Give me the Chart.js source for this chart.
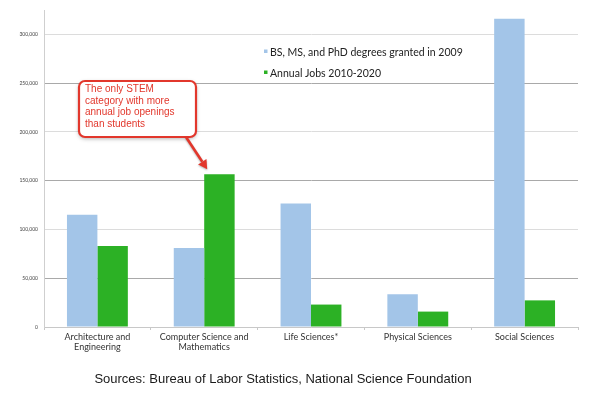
<!DOCTYPE html>
<html>
<head>
<meta charset="utf-8">
<script src="https://cdn.jsdelivr.net/npm/chart.js@4.4.0/dist/chart.umd.min.js"></script>
<style>
  html, body { margin: 0; padding: 0; background: #fff; }
  #wrap { width: 599px; height: 398px; position: relative; }
</style>
</head>
<body>
<div id="wrap"><canvas id="c" width="599" height="398"></canvas></div>
<script>
// values
const categories = [
    ['Architecture and', 'Engineering'],
    ['Computer Science and', 'Mathematics'],
    'Life Sciences*',
    'Physical Sciences',
    'Social Sciences'
];
const degrees2009 = [115000, 81000, 126500, 33500, 316000];
const annualJobs = [83000, 156500, 23000, 15800, 27300];
const yTicks = [0, 50000, 100000, 150000, 200000, 250000, 300000];
const seriesNames = ['BS, MS, and PhD degrees granted in 2009', 'Annual Jobs 2010-2020'];
const calloutLines = ['The only STEM', 'category with more', 'annual job openings', 'than students'];
const sourceNote = 'Sources: Bureau of Labor Statistics, National Science Foundation';

const BLUE = '#a3c5e8';
const GREEN = '#2cb125';
const RED = '#e2372c';

// legend inside the plot, callout box + arrow, source line
const extras = {
    id: 'extras',
    afterDraw(chart) {
        const ctx = chart.ctx;
        ctx.save();

        // legend
        ctx.font = '10.5px Lato, sans-serif';
        ctx.textBaseline = 'middle';
        chart.data.datasets.forEach((ds, i) => {
            const y = 52.5 + i * 21;
            ctx.fillStyle = ds.backgroundColor;
            ctx.fillRect(264, y - 3, 3.5, 3.5);
            ctx.fillStyle = '#222';
            ctx.fillText(ds.label, 270, y);
        });

        // callout box
        const bx = 79, by = 81, bw = 117, bh = 56, r = 6;
        ctx.shadowColor = 'rgba(0,0,0,0.35)';
        ctx.shadowBlur = 4;
        ctx.shadowOffsetY = 1.5;
        ctx.beginPath();
        ctx.roundRect(bx, by, bw, bh, r);
        ctx.fillStyle = '#fff';
        ctx.fill();
        ctx.shadowColor = 'transparent';
        ctx.lineWidth = 2.2;
        ctx.strokeStyle = RED;
        ctx.stroke();

        ctx.fillStyle = RED;
        ctx.font = '10px "Liberation Sans", Arial, sans-serif';
        ctx.textBaseline = 'middle';
        calloutLines.forEach((t, i) => ctx.fillText(t, 85, 89.5 + i * 11.6));

        // arrow toward the computer science jobs bar
        const bar = chart.getDatasetMeta(1).data[1];
        const tipX = bar.x - bar.width / 2 + 3;
        const tipY = bar.y - 5;
        const sx = 186, sy = 137;
        const ang = Math.atan2(tipY - sy, tipX - sx);
        const head = 9, half = 5;
        const baseX = tipX - head * Math.cos(ang), baseY = tipY - head * Math.sin(ang);
        ctx.shadowColor = 'rgba(0,0,0,0.3)';
        ctx.shadowBlur = 2;
        ctx.shadowOffsetY = 1;
        ctx.strokeStyle = RED;
        ctx.lineWidth = 2.6;
        ctx.beginPath();
        ctx.moveTo(sx, sy);
        ctx.lineTo(baseX, baseY);
        ctx.stroke();
        ctx.beginPath();
        ctx.moveTo(tipX, tipY);
        ctx.lineTo(baseX + half * Math.sin(ang), baseY - half * Math.cos(ang));
        ctx.lineTo(baseX - half * Math.sin(ang), baseY + half * Math.cos(ang));
        ctx.closePath();
        ctx.fillStyle = RED;
        ctx.fill();
        ctx.shadowColor = 'transparent';

        // sources
        ctx.fillStyle = '#1a1a1a';
        ctx.font = '13px "Liberation Sans", Arial, sans-serif';
        ctx.textAlign = 'center';
        ctx.fillText(sourceNote, 283, 379);

        ctx.restore();
    }
};

new Chart(document.getElementById('c'), {
    type: 'bar',
    data: {
        labels: categories,
        datasets: [
            { label: seriesNames[0], data: degrees2009, backgroundColor: BLUE, borderWidth: 0 },
            { label: seriesNames[1], data: annualJobs, backgroundColor: GREEN, borderWidth: 0 }
        ]
    },
    options: {
        responsive: false,
        animation: false,
        layout: { padding: { top: 10, right: 21, left: 0, bottom: 0 } },
        plugins: {
            legend: { display: false },
            tooltip: { enabled: false }
        },
        datasets: { bar: { barPercentage: 1, categoryPercentage: 0.57 } },
        scales: {
            x: {
                afterFit: s => { s.height = 71; },
                grid: { drawOnChartArea: false, drawTicks: true, tickLength: 3, color: '#c8c8c8' },
                border: { color: '#c8c8c8' },
                ticks: { color: '#333', padding: 2, maxRotation: 0, autoSkip: false,
                         font: { family: 'Lato, sans-serif', size: 9, lineHeight: 1.1 } }
            },
            y: {
                min: 0,
                max: 325000,
                afterFit: s => { s.width = 44; },
                afterBuildTicks: s => { s.ticks = yTicks.map(v => ({ value: v })); },
                grid: {
                    drawTicks: false,
                    color: c => (c.tick && c.tick.value % 100000 === 50000) ? '#a9a9a9' : '#dcdcdc'
                },
                border: { color: '#cfcfcf' },
                ticks: {
                    autoSkip: false,
                    padding: 6,
                    color: '#444',
                    font: { family: 'Lato, sans-serif', size: 5 },
                    callback: v => v.toLocaleString('en-US')
                }
            }
        }
    },
    plugins: [extras]
});
</script>
</body>
</html>
